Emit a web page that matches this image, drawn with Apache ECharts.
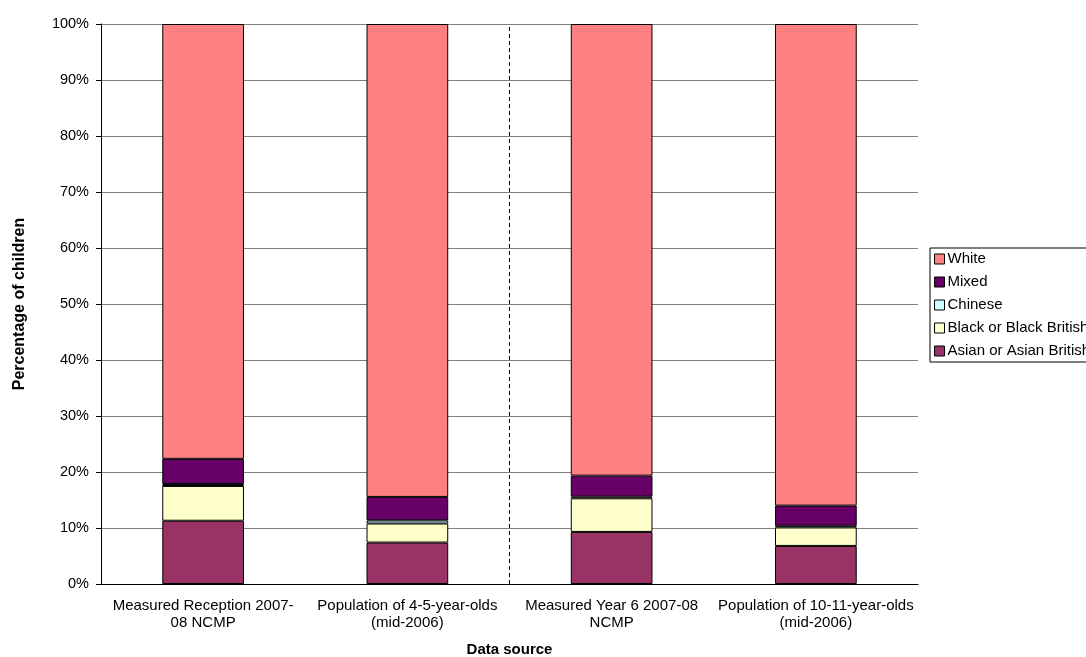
<!DOCTYPE html>
<html><head><meta charset="utf-8">
<script src="https://cdn.jsdelivr.net/npm/echarts@6/dist/echarts.min.js"></script>
<style>html,body{margin:0;padding:0;background:#fff}#c{width:1086px;height:657px}</style>
</head><body><div id="c"></div>
<script>
const categories = ["Measured Reception 2007-\n08 NCMP", "Population of 4-5-year-olds\n(mid-2006)", "Measured Year 6 2007-08\nNCMP", "Population of 10-11-year-olds\n(mid-2006)"];
const asian = [11.3, 7.4, 9.3, 6.8];
const black = [6.2, 3.4, 6.0, 3.3];
const chinese = [0.35, 0.55, 0.3, 0.3];
const mixed = [4.5, 4.2, 3.75, 3.6];
const white = [77.65, 84.45, 80.65, 86.0];
const yTicks = [0, 10, 20, 30, 40, 50, 60, 70, 80, 90, 100];

const font = "'Liberation Sans', Arial, sans-serif";
const chart = echarts.init(document.getElementById('c'));
function bar(name, data, color) {
  return { name, type: 'bar', stack: 's', data, barWidth: '40%',
    itemStyle: { color, borderColor: '#000', borderWidth: 1 }, xAxisIndex: 0 };
}
chart.setOption({
  animation: false,
  textStyle: { fontFamily: font },
  grid: { left: 101, right: 168, top: 24, bottom: 73, outerBoundsMode: 'none', containLabel: false },
  legend: {
    orient: 'vertical', left: 930, top: 248,
    data: ['White', 'Mixed', 'Chinese', 'Black or Black British', 'Asian or Asian British'],
    itemWidth: 10, itemHeight: 10, itemGap: 7, icon: 'rect',
    borderColor: '#000', borderWidth: 1, padding: [3, 30, 3, 4],
    textStyle: { fontFamily: font, fontSize: 15, lineHeight: 16, color: '#000', padding: [0, 0, 0, -2] },
    itemStyle: { borderColor: '#000', borderWidth: 1 }
  },
  xAxis: [{
    type: 'category', data: categories,
    name: 'Data source', nameLocation: 'middle', nameGap: 58,
    nameTextStyle: { fontFamily: font, fontSize: 15, fontWeight: 'bold', color: '#000' },
    axisLine: { lineStyle: { color: '#000' } },
    axisTick: { lineStyle: { color: '#000' }, length: 5 },
    axisLabel: { fontFamily: font, fontSize: 15, color: '#000', margin: 13, lineHeight: 17, interval: 0 },
    splitLine: { show: false }
  }, {
    type: 'value', min: 0, max: 4, show: false
  }],
  yAxis: {
    type: 'value', min: 0, max: 100, interval: 10,
    name: 'Percentage of children', nameLocation: 'middle', nameGap: 73,
    nameTextStyle: { fontFamily: font, fontSize: 16, fontWeight: 'bold', color: '#000' },
    axisLine: { show: true, lineStyle: { color: '#000' } },
    axisTick: { show: true, lineStyle: { color: '#000' }, length: 5 },
    axisLabel: { fontFamily: font, fontSize: 14.5, color: '#000', margin: 12,
      formatter: v => yTicks.includes(v) ? v + '%' : '' },
    splitLine: { lineStyle: { color: '#808080', width: 1 } }
  },
  series: [
    bar('Asian or Asian British', asian, '#993366'),
    bar('Black or Black British', black, '#FFFFCC'),
    bar('Chinese', chinese, '#CCFFFF'),
    bar('Mixed', mixed, '#660066'),
    bar('White', white, '#FF8080'),
    { type: 'line', xAxisIndex: 1, data: [], silent: true,
      markLine: { symbol: 'none', silent: true, label: { show: false },
        lineStyle: { color: '#000', type: [4, 3], width: 1 },
        data: [{ xAxis: 2 }] } }
  ]
});
</script></body></html>
